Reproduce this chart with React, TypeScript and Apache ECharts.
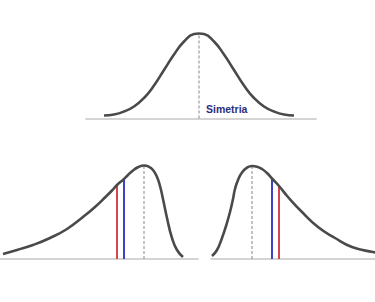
import React, { useEffect, useRef } from "react";
import * as echarts from "echarts";

// Top: symmetric curve (x = offset from centre, y = height above baseline)
const symX = [-95, -85, -75, -65, -55, -45, -35, -25, -15, -5, 0, 5, 15, 25, 35, 45, 55, 65, 75, 85, 95];
const symY = [3, 4, 7, 12, 20.5, 33, 48.5, 64, 77, 84.5, 85, 84.5, 77, 64, 48.5, 33, 20.5, 12, 7, 4, 3];
const symPeak = [0, 85];

// Bottom-left: negatively skewed curve
const leftX = [3, 17, 33, 50, 67, 83, 95, 106, 112, 117, 124, 128, 133, 138, 144, 149, 153, 157, 160, 163, 167, 172, 177, 183];
const leftY = [5, 9, 14, 21, 30, 42, 52, 62.5, 68.5, 74, 80, 84, 88.5, 91.8, 93.5, 92.2, 89, 82, 73, 60, 41, 21, 9, 2];
const leftMode = [144, 93.5];
const leftMedian = [124, 80];
const leftMean = [117, 74];

// Bottom-right: positively skewed curve
const rightX = [1, 6, 11, 15, 19, 22, 24, 27, 31, 36, 41, 46, 51, 56, 61, 68, 77, 91, 107, 124, 141, 162, 170];
const rightY = [3, 9, 21, 33, 47, 60, 70, 79, 86.5, 91.3, 93, 92.3, 90, 86, 80.5, 73, 62, 47, 32, 21, 12, 7, 6];
const rightMode = [41, 93];
const rightMedian = [61, 80.5];
const rightMean = [68, 73];

const label = "Simetria";

const CURVE = "#4a4a4a";
const BASE = "#c6c6c6";
const DASH = "#9a9a9a";
const RED = "#d2474c";
const BLUE = "#3d42c6";

const zip = (xs: number[], ys: number[]) => xs.map((x, i) => [x, ys[i]]);
const vline = (p: number[]) => [[p[0], 0], [p[0], p[1]]];

export default function App() {
  const ref = useRef<HTMLDivElement>(null);
  useEffect(() => {
    if (!ref.current) return;
    const chart = echarts.init(ref.current, null, { renderer: "svg" });
    const grids = [
      { left: 86, top: 18.5, width: 230, height: 100 },
      { left: 0, top: 159, width: 198, height: 100 },
      { left: 211, top: 159, width: 164, height: 100 },
    ];
    const xr = [
      [-113, 117],
      [0, 198],
      [0, 164],
    ];
    const xAxis = grids.map((_, i) => ({
      type: "value",
      gridIndex: i,
      min: xr[i][0],
      max: xr[i][1],
      axisLine: { show: true, lineStyle: { color: BASE, width: 1.6 } },
      axisTick: { show: false },
      axisLabel: { show: false },
      splitLine: { show: false },
    }));
    const yAxis = grids.map((_, i) => ({
      type: "value",
      gridIndex: i,
      min: 0,
      max: 100,
      show: false,
    }));
    const curve = (i: number, data: number[][]) => ({
      type: "line",
      xAxisIndex: i,
      yAxisIndex: i,
      data,
      smooth: 0.5,
      showSymbol: false,
      symbol: "none",
      lineStyle: { color: CURVE, width: 2.6 },
      z: 5,
    });
    const seg = (i: number, data: number[][], color: string, dashed: boolean) => ({
      type: "line",
      xAxisIndex: i,
      yAxisIndex: i,
      data,
      showSymbol: false,
      symbol: "none",
      lineStyle: dashed
        ? { color, width: 1.2, type: [3, 2] }
        : { color, width: 2 },
      z: 3,
    });
    chart.setOption({
      animation: false,
      backgroundColor: "#ffffff",
      grid: grids,
      xAxis,
      yAxis,
      series: [
        curve(0, zip(symX, symY)),
        seg(0, vline(symPeak), DASH, true),
        curve(1, zip(leftX, leftY)),
        seg(1, vline(leftMode), DASH, true),
        seg(1, vline(leftMedian), BLUE, false),
        seg(1, vline(leftMean), RED, false),
        curve(2, zip(rightX, rightY)),
        seg(2, vline(rightMode), DASH, true),
        seg(2, vline(rightMedian), BLUE, false),
        seg(2, vline(rightMean), RED, false),
      ],
      graphic: [
        {
          type: "text",
          left: 206,
          top: 103,
          style: {
            text: label,
            fill: "#2b2e7e",
            font: "bold 10.5px 'Liberation Sans', Arial, sans-serif",
          },
        },
      ],
    });
    return () => chart.dispose();
  }, []);
  return (
    <div
      ref={ref}
      style={{ position: "absolute", left: 0, top: 0, width: 375, height: 302, background: "#fff" }}
    />
  );
}
